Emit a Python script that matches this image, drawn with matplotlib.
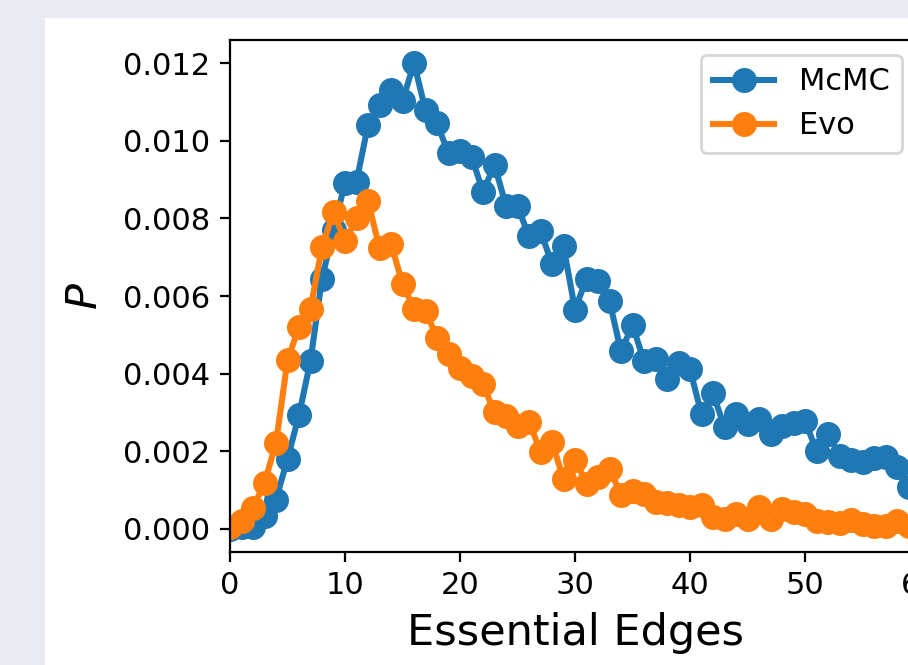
import matplotlib
matplotlib.use("Agg")
import matplotlib.pyplot as plt
from matplotlib.patches import Rectangle

edges = list(range(0, 60))
mcmc = [0.0, 0.00004, 0.00004, 0.00032, 0.00075, 0.0018, 0.00293, 0.00433, 0.00645, 0.0077,
        0.00892, 0.00895, 0.01041, 0.01092, 0.01131, 0.01102, 0.01201, 0.01079, 0.01045, 0.00968,
        0.00975, 0.00959, 0.00869, 0.00938, 0.00833, 0.00831, 0.00754, 0.00767, 0.00683, 0.00728,
        0.00565, 0.00644, 0.00638, 0.00587, 0.00457, 0.00525, 0.00432, 0.00437, 0.00385, 0.00428,
        0.00411, 0.00295, 0.00349, 0.00261, 0.00295, 0.0027, 0.00284, 0.00244, 0.00266, 0.00272,
        0.00278, 0.00201, 0.00244, 0.00188, 0.00177, 0.00171, 0.00182, 0.00184, 0.00158, 0.00107]
evo = [0.00005, 0.00019, 0.00053, 0.00118, 0.00221, 0.00434, 0.0052, 0.00567, 0.00726, 0.00816,
       0.00741, 0.00801, 0.00845, 0.00724, 0.00735, 0.00632, 0.00567, 0.00561, 0.00493, 0.0045,
       0.00414, 0.00395, 0.00372, 0.003, 0.0029, 0.00266, 0.00276, 0.00199, 0.00223, 0.00128,
       0.00178, 0.00116, 0.00134, 0.00155, 0.00088, 0.00098, 0.0009, 0.00069, 0.00066, 0.0006,
       0.00056, 0.00062, 0.0003, 0.00026, 0.00037, 0.00026, 0.00056, 0.00026, 0.00051, 0.00043,
       0.00039, 0.00021, 0.00017, 0.00015, 0.00023, 0.00013, 0.00008, 0.00006, 0.00021, 0.00008]
series_names = ["McMC", "Evo"]
xticks = [0, 10, 20, 30, 40, 50, 60]

W, H = 908, 665
fig = plt.figure(figsize=(W / 200, H / 200), dpi=200, facecolor="#eaeaf2")
bg = Rectangle((45 / W, 0), 1 - 45 / W, 1 - 18 / H, transform=fig.transFigure,
               facecolor="white", edgecolor="none", zorder=-10)
fig.add_artist(bg)

left, right = 230 / W, 920 / W
bottom, top = 1 - 552 / H, 1 - 40 / H
ax = fig.add_axes([left, bottom, right - left, top - bottom])
ax.set_zorder(1)
ax.set_facecolor("white")

ax.plot(edges, mcmc, "-o", color="#1f77b4", lw=2.2, ms=8, label=series_names[0])
ax.plot(edges, evo, "-o", color="#ff7f0e", lw=2.2, ms=8, label=series_names[1])

ax.set_xlim(0, 60)
ax.set_ylim(-0.0006, 0.0126)
ax.set_xticks(xticks)
ax.set_yticks([0.0, 0.002, 0.004, 0.006, 0.008, 0.010, 0.012])
ax.set_yticklabels(["0.000", "0.002", "0.004", "0.006", "0.008", "0.010", "0.012"])
ax.tick_params(labelsize=11, length=3.5, width=0.8)
ax.set_xlabel("Essential Edges", fontsize=15.5, labelpad=4)
ax.set_ylabel("$P$", fontsize=15.5)
ax.yaxis.set_label_coords(-0.179, 0.5)

ax.legend(loc="upper right", bbox_to_anchor=(902 / W, 1 - 55 / H), bbox_transform=fig.transFigure,
          borderaxespad=0, fontsize=11)

fig.savefig("out.png", dpi=200, facecolor=fig.get_facecolor())
